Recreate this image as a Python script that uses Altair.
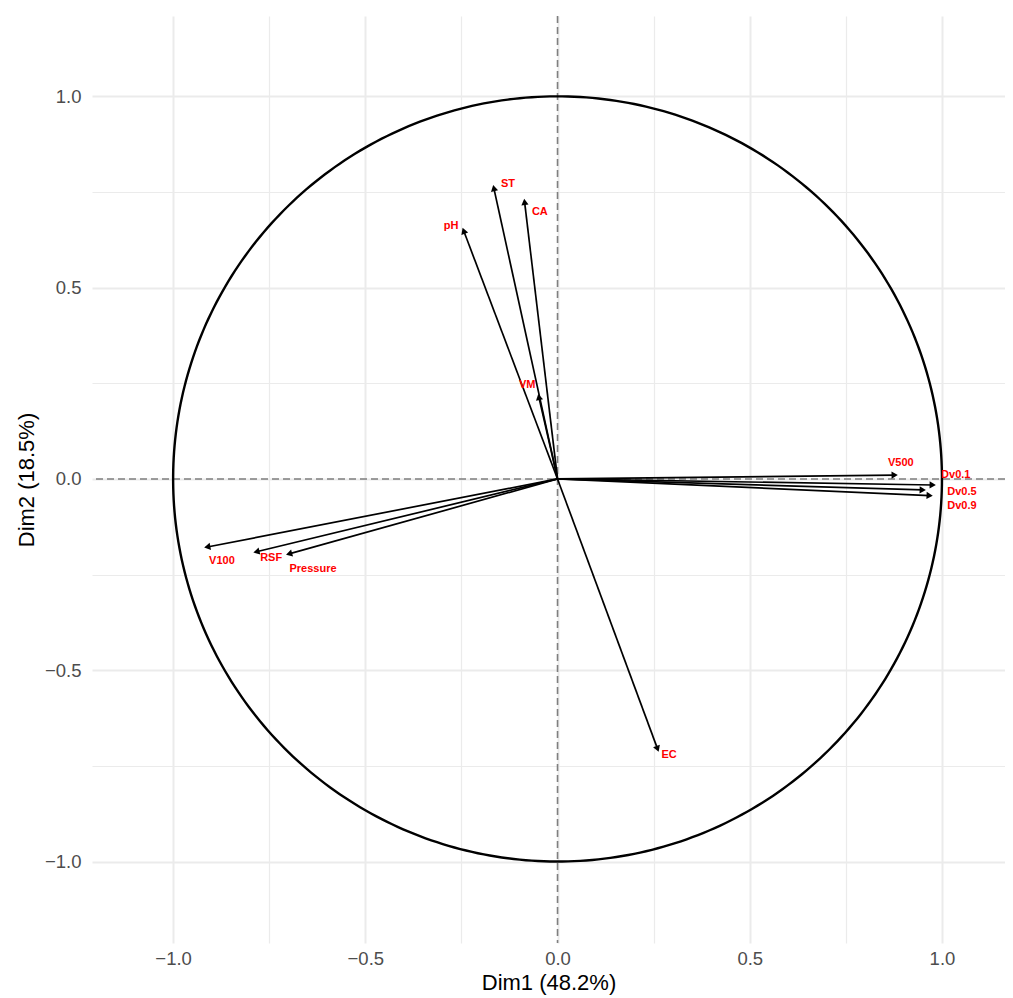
import altair as alt
import numpy as np
import pandas as pd

# ---- data ----
variables = ["V500", "Dv0.1", "Dv0.5", "Dv0.9", "V100", "RSF", "Pressure",
             "ST", "CA", "pH", "VM", "EC"]
dim1 = [0.888, 0.987, 0.961, 0.979, -0.922, -0.794, -0.709,
        -0.168, -0.087, -0.248, -0.051, 0.264]
dim2 = [0.010, -0.016, -0.029, -0.044, -0.180, -0.193, -0.199,
        0.771, 0.735, 0.659, 0.225, -0.716]
label_x = [0.893, 1.036, 1.052, 1.052, -0.873, -0.745, -0.636,
           -0.129, -0.046, -0.277, -0.079, 0.290]
label_y = [0.042, 0.010, -0.034, -0.071, -0.214, -0.207, -0.235,
           0.771, 0.698, 0.661, 0.246, -0.722]
tick_values = [-1.0, -0.75, -0.5, -0.25, 0.0, 0.25, 0.5, 0.75, 1.0]
x_title = "Dim1 (48.2%)"
y_title = "Dim2 (18.5%)"

# ---- derived tables ----
d1 = np.array(dim1)
d2 = np.array(dim2)
length = np.sqrt(d1 ** 2 + d2 ** 2)
ux, uy = d1 / length, d2 / length
arrows = pd.DataFrame({
    "var": variables, "x": d1, "y": d2,
    "x0": 0.0, "y0": 0.0,
    "hx": d1 - 0.011 * ux, "hy": d2 - 0.011 * uy,
    "angle": np.degrees(np.arctan2(d1, d2)) % 360,
    "lx": label_x, "ly": label_y,
})
theta = np.linspace(0, 2 * np.pi, 400)
circle = pd.DataFrame({"cx": np.cos(theta), "cy": np.sin(theta), "i": np.arange(len(theta))})
zero = pd.DataFrame({"v": [0.0]})

FONT = "Liberation Sans"
major = "abs(datum.value % 0.5) < 1e-6"
axis_common = dict(
    values=tick_values, grid=True, gridColor="#EBEBEB",
    gridWidth={"condition": {"test": major, "value": 2}, "value": 1.2},
    ticks=False, domain=False,
    labelExpr=f"{major} ? format(datum.value, '.1f') : ''",
    labelFont=FONT, labelFontSize=18.5, labelColor="#4D4D4D",
    titleFont=FONT, titleFontSize=22, titleFontWeight="normal", titleColor="#000000",
)
xs = alt.Scale(domain=[-1.211, 1.164], nice=False, zero=False)
ys = alt.Scale(domain=[-1.213, 1.21], nice=False, zero=False)
xaxis = alt.Axis(title=x_title, labelPadding=6, titlePadding=5, **axis_common)
yaxis = alt.Axis(title=y_title, labelPadding=11, titlePadding=6, **axis_common)

base_grid = alt.Chart(zero).mark_point(opacity=0).encode(
    x=alt.X("v:Q", scale=xs, axis=xaxis),
    y=alt.Y("v:Q", scale=ys, axis=yaxis),
)

vline = alt.Chart(zero).mark_rule(color="#7F7F7F", strokeWidth=1.6, strokeDash=[7, 4]).encode(
    x=alt.X("v:Q", scale=xs))
hline = alt.Chart(zero).mark_rule(color="#7F7F7F", strokeWidth=1.6, strokeDash=[7, 4]).encode(
    y=alt.Y("v:Q", scale=ys))

circ = alt.Chart(circle).mark_line(color="black", strokeWidth=2.4).encode(
    x=alt.X("cx:Q", scale=xs), y=alt.Y("cy:Q", scale=ys), order="i:Q")

shafts = alt.Chart(arrows).mark_rule(color="black", strokeWidth=1.7).encode(
    x=alt.X("x0:Q", scale=xs), y=alt.Y("y0:Q", scale=ys), x2="hx:Q", y2="hy:Q")

heads = alt.Chart(arrows).mark_point(shape="triangle-up", filled=True, color="black",
                                     opacity=1, size=52).encode(
    x=alt.X("hx:Q", scale=xs), y=alt.Y("hy:Q", scale=ys),
    angle=alt.Angle("angle:Q", scale=None))

labels = alt.Chart(arrows).mark_text(font=FONT, fontWeight="bold", fontSize=11, color="red",
                                     align="center", baseline="middle").encode(
    x=alt.X("lx:Q", scale=xs), y=alt.Y("ly:Q", scale=ys), text="var:N")

chart = alt.layer(base_grid, vline, hline, circ, shafts, heads, labels).properties(
    width=913, height=927,
    autosize=alt.AutoSizeParams(type="none"),
    padding={"left": 84, "top": 8, "right": 0, "bottom": 55},
    background="white",
).configure_view(stroke=None)

chart.save("out.html", embed_options={"renderer": "svg", "actions": False})
